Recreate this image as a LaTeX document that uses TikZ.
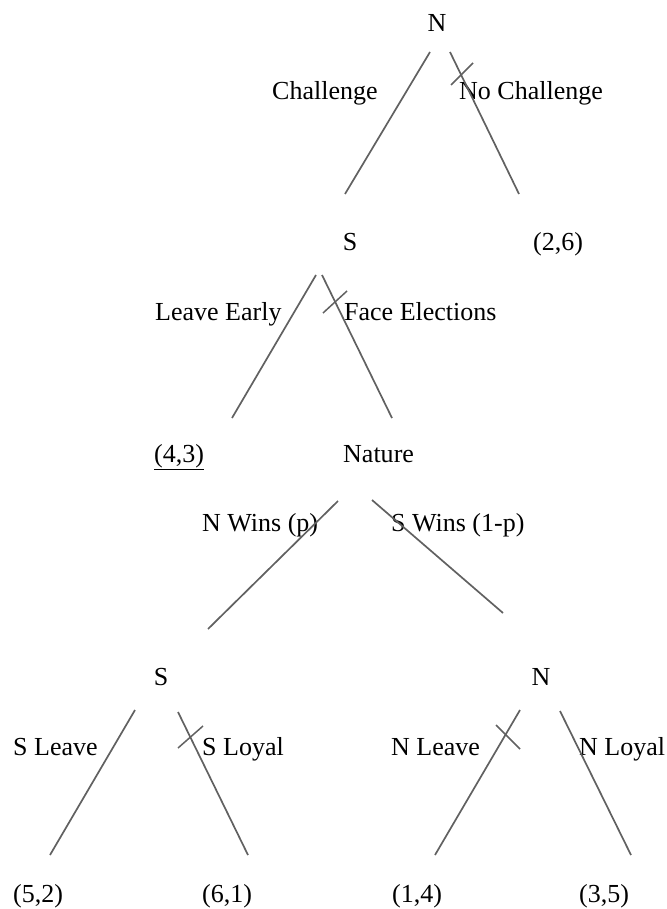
\documentclass[tikz,border=0pt]{standalone}
\usepackage{fontspec}
\setmainfont{Liberation Serif}
\begin{document}
\begin{tikzpicture}[x=1pt,y=-1pt,
  lbl/.style={inner sep=0pt, font=\fontsize{26}{30}\selectfont},
  branch/.style={draw=black!62, line width=1.7pt},
  strike/.style={draw=black!62, line width=1.5pt}]
\useasboundingbox (0,0) rectangle (666,909);

% ---- decision nodes, payoffs and move labels ----
\node[lbl, anchor=base] (root) at (437,32) {N};
\node[lbl, anchor=base west] (lchal) at (272,100) {Challenge};
\node[lbl, anchor=base west] (lnochal) at (459,100) {No Challenge};

\node[lbl, anchor=base] (s1) at (350,251) {S};
\node[lbl, anchor=base] (p26) at (558,251) {(2,6)};
\node[lbl, anchor=base west] (lleave) at (155,320) {Leave Early};
\node[lbl, anchor=base west] (lface) at (344,320) {Face Elections};

\node[lbl, anchor=base] (p43) at (179,462) {\underline{(4,3)}};
\node[lbl, anchor=base west] (nature) at (343,462) {Nature};
\node[lbl, anchor=base west] (lnw) at (202,531) {N Wins (p)};
\node[lbl, anchor=base west] (lsw) at (391,531) {S Wins (1-p)};

\node[lbl, anchor=base] (s2) at (161,685) {S};
\node[lbl, anchor=base] (n2) at (541,685) {N};
\node[lbl, anchor=base west] (lsleave) at (13,755) {S Leave};
\node[lbl, anchor=base west] (lsloyal) at (202,755) {S Loyal};
\node[lbl, anchor=base west] (lnleave) at (391,755) {N Leave};
\node[lbl, anchor=base west] (lnloyal) at (579,755) {N Loyal};

\node[lbl, anchor=base west] (p52) at (13,902) {(5,2)};
\node[lbl, anchor=base west] (p61) at (202,902) {(6,1)};
\node[lbl, anchor=base west] (p14) at (392,902) {(1,4)};
\node[lbl, anchor=base west] (p35) at (579,902) {(3,5)};

% ---- branch end points ----
\coordinate (a1) at (430,52);  \coordinate (a2) at (345,194);
\coordinate (b1) at (450,52);  \coordinate (b2) at (519,194);
\coordinate (c1) at (316,275); \coordinate (c2) at (232,418);
\coordinate (d1) at (322,275); \coordinate (d2) at (392,418);
\coordinate (e1) at (338,501); \coordinate (e2) at (208,629);
\coordinate (f1) at (372,500); \coordinate (f2) at (503,613);
\coordinate (g1) at (135,710); \coordinate (g2) at (50,855);
\coordinate (h1) at (178,712); \coordinate (h2) at (248,855);
\coordinate (i1) at (520,710); \coordinate (i2) at (435,855);
\coordinate (j1) at (560,711); \coordinate (j2) at (631,855);

\draw[branch] (a1) -- (a2);
\draw[branch] (b1) -- (b2);
\draw[branch] (c1) -- (c2);
\draw[branch] (d1) -- (d2);
\draw[branch] (e1) -- (e2);
\draw[branch] (f1) -- (f2);
\draw[branch] (g1) -- (g2);
\draw[branch] (h1) -- (h2);
\draw[branch] (i1) -- (i2);
\draw[branch] (j1) -- (j2);

% ---- strokes crossing out the rejected moves ----
\coordinate (x1a) at (451,85);  \coordinate (x1b) at (473,63);
\coordinate (x2a) at (323,313); \coordinate (x2b) at (347,291);
\coordinate (x3a) at (178,748); \coordinate (x3b) at (203,726);
\coordinate (x4a) at (496,725); \coordinate (x4b) at (520,749);
\draw[strike] (x1a) -- (x1b);
\draw[strike] (x2a) -- (x2b);
\draw[strike] (x3a) -- (x3b);
\draw[strike] (x4a) -- (x4b);
\end{tikzpicture}
\end{document}
